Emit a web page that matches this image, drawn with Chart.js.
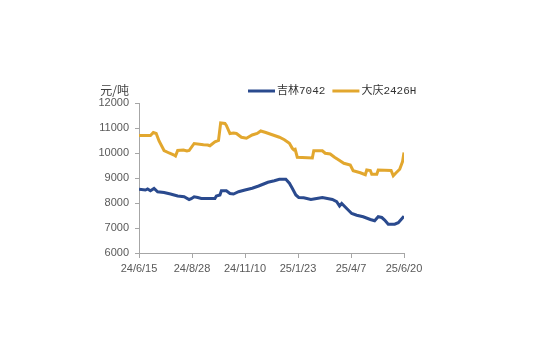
<!DOCTYPE html>
<html>
<head>
<meta charset="utf-8">
<script src="https://cdn.jsdelivr.net/npm/chart.js@4"></script>
<style>
  html, body { margin: 0; padding: 0; background: #fff; }
  #wrap { width: 535px; height: 363px; }
</style>
</head>
<body>
<div id="wrap"><canvas id="priceChart"></canvas></div>
<script>
// x axis: days counted from 24/6/15, one label every 74 days
const tickLabels = ['24/6/15', '24/8/28', '24/11/10', '25/1/23', '25/4/7', '25/6/20'];

// 吉林7042 (元/吨)
const jilinDays = [0, 9, 12, 16, 21, 26, 35, 44, 54, 63, 70, 73, 77, 82, 87, 106, 108, 113, 115, 122,
  127, 132, 139, 148, 158, 167, 174, 180, 189, 196, 205, 210, 214, 219, 223, 230, 240, 246, 256, 263,
  270, 276, 280, 283, 290, 297, 304, 313, 323, 329, 334, 339, 343, 348, 357, 362, 366, 370];
const jilinPrice = [8550, 8520, 8560, 8490, 8580, 8450, 8420, 8360, 8280, 8250, 8140, 8170, 8250, 8220, 8180, 8180, 8280, 8320, 8490, 8490,
  8380, 8360, 8450, 8520, 8590, 8680, 8760, 8830, 8890, 8950, 8950, 8790, 8590, 8320, 8220, 8210, 8140, 8170, 8220, 8180,
  8140, 8050, 7880, 7980, 7780, 7580, 7510, 7450, 7340, 7290, 7450, 7420, 7320, 7150, 7150, 7210, 7340, 7470];

// 大庆2426H (元/吨)
const daqingDays = [0, 16, 20, 24, 28, 35, 42, 49, 51, 54, 62, 67, 70, 77, 90, 96, 99, 106, 111, 114,
  120, 122, 127, 132, 136, 143, 150, 158, 165, 170, 177, 186, 196, 203, 210, 214, 216, 218, 221, 242,
  244, 256, 260, 267, 273, 279, 286, 295, 299, 309, 316, 318, 323, 325, 332, 334, 352, 355, 359, 364, 368, 370];
const daqingPrice = [10700, 10700, 10820, 10780, 10480, 10100, 10000, 9920, 9880, 10100, 10120, 10080, 10100, 10380, 10330, 10320, 10290, 10450, 10500, 11200,
  11180, 11100, 10780, 10800, 10780, 10630, 10590, 10720, 10780, 10880, 10820, 10730, 10630, 10530, 10390, 10190, 10130, 10150, 9830, 9800,
  10090, 10090, 9990, 9960, 9830, 9720, 9590, 9520, 9290, 9210, 9130, 9320, 9300, 9150, 9150, 9320, 9300, 9090, 9210, 9350, 9660, 10020];

const toPoints = (days, values) => days.map((d, i) => ({ x: d, y: values[i] }));

const axisColor = '#a6a6a6';
const tickFont = { family: "'Liberation Sans', Arial, sans-serif", size: 11 };

// unit label above the y axis + legend row at top right
const headerPlugin = {
  id: 'header',
  afterDraw(chart) {
    const { ctx, chartArea } = chart;
    ctx.save();
    ctx.font = "12px 'Noto Sans CJK SC', sans-serif";
    ctx.fillStyle = '#404040';
    ctx.textAlign = 'right';
    ctx.textBaseline = 'alphabetic';
    ctx.fillText('元/吨', chartArea.left - 10, chartArea.top - 8);

    // legend
    ctx.font = "11px 'Liberation Mono', 'Noto Sans CJK SC', monospace";
    ctx.textAlign = 'left';
    ctx.textBaseline = 'middle';
    const y = chartArea.top - 12;
    let x = chartArea.left + 109;
    chart.data.datasets.forEach((ds) => {
      ctx.strokeStyle = ds.borderColor;
      ctx.lineWidth = 3;
      ctx.beginPath();
      ctx.moveTo(x, y);
      ctx.lineTo(x + 27, y);
      ctx.stroke();
      ctx.fillStyle = '#333';
      ctx.fillText(ds.label, x + 29, y + 0.5);
      x += 29 + ctx.measureText(ds.label).width + 7;
    });
    ctx.restore();
  }
};

new Chart(document.getElementById('priceChart'), {
  type: 'line',
  data: {
    datasets: [
      {
        label: '吉林7042',
        data: toPoints(jilinDays, jilinPrice),
        borderColor: '#2a4a8e',
        backgroundColor: '#2a4a8e',
        borderWidth: 3,
        pointRadius: 0,
        tension: 0,
      },
      {
        label: '大庆2426H',
        data: toPoints(daqingDays, daqingPrice),
        borderColor: '#e2a72e',
        backgroundColor: '#e2a72e',
        borderWidth: 3,
        pointRadius: 0,
        tension: 0,
      },
    ],
  },
  options: {
    responsive: true,
    maintainAspectRatio: false,
    animation: false,
    devicePixelRatio: 1,
    layout: { padding: { left: 0, right: 131, top: 103, bottom: 80 } },
    plugins: {
      legend: { display: false },
      tooltip: { enabled: false },
    },
    scales: {
      x: {
        type: 'linear',
        min: 0,
        max: 370,
        afterFit: (scale) => { scale.height = 30; },
        ticks: {
          stepSize: 74,
          autoSkip: false,
          maxRotation: 0,
          padding: 4,
          color: '#595959',
          font: tickFont,
          callback: (value) => tickLabels[value / 74],
        },
        grid: { drawOnChartArea: false, tickLength: 5, color: axisColor },
        border: { color: axisColor },
      },
      y: {
        min: 6000,
        max: 12000,
        afterFit: (scale) => { scale.width = 139; },
        ticks: {
          stepSize: 1000,
          padding: 6,
          color: '#595959',
          font: tickFont,
          callback: (value) => String(value),
        },
        grid: { drawOnChartArea: false, tickLength: 4, color: axisColor },
        border: { color: axisColor },
      },
    },
  },
  plugins: [headerPlugin],
});
</script>
</body>
</html>
